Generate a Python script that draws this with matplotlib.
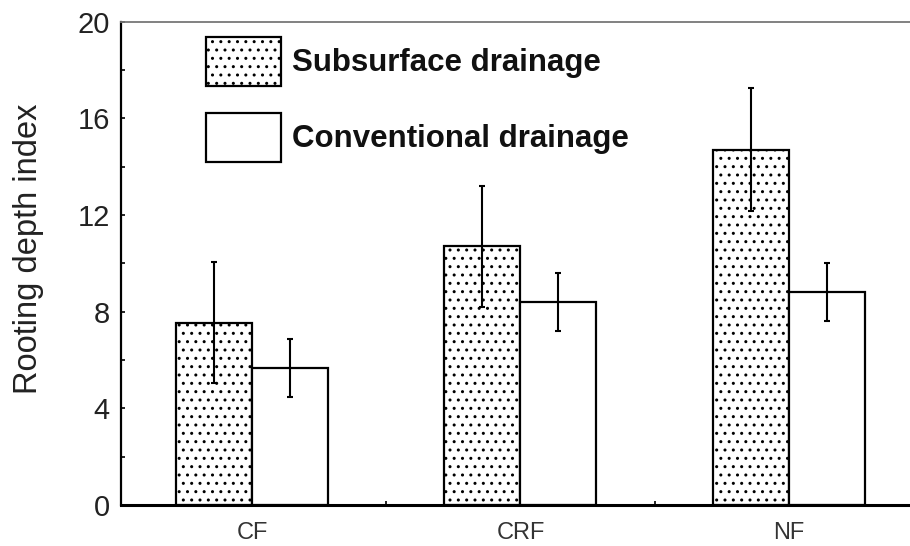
import matplotlib
matplotlib.use("Agg")
import matplotlib.pyplot as plt
import numpy as np
from matplotlib.patches import Patch

categories = ["CF", "CRF", "NF"]
series_names = ["Subsurface drainage", "Conventional drainage"]
subsurface = [7.55, 10.7, 14.7]
subsurface_err = [2.5, 2.5, 2.55]
conventional = [5.65, 8.4, 8.8]
conventional_err = [1.2, 1.22, 1.2]
yticks = [0, 4, 8, 12, 16, 20]

plt.rcParams['font.family'] = ['Liberation Sans', 'DejaVu Sans']
plt.rcParams['hatch.linewidth'] = 1.0

fig = plt.figure(figsize=(9.1, 5.46), dpi=100)
ax = fig.add_axes([121/910, 1 - 505/546, 1 - 121/910, (505 - 21.7)/546])

x = np.arange(len(categories))
w = 0.283
off = 0.1415

ax.bar(x - off, subsurface, width=w, color='white', edgecolor='black',
       linewidth=1.6, hatch='..', zorder=2)
ax.bar(x + off, conventional, width=w, color='white', edgecolor='black',
       linewidth=1.6, zorder=2)
ax.errorbar(x - off, subsurface, yerr=subsurface_err, fmt='none', ecolor='black',
            elinewidth=1.5, capsize=2, capthick=1.5, zorder=3)
ax.errorbar(x + off, conventional, yerr=conventional_err, fmt='none', ecolor='black',
            elinewidth=1.5, capsize=2, capthick=1.5, zorder=3)

ax.set_xlim(-0.488, 2.451)
ax.set_ylim(0, 20)

ax.set_yticks(yticks)
ax.set_yticks([2, 6, 10, 14, 18], minor=True)
ax.tick_params(axis='y', which='both', direction='in', length=3, width=1.2,
               labelsize=21, pad=8, colors='black', labelcolor='#222222')

ax.set_xticks(x)
ax.set_xticklabels(categories)
ax.set_xticks([0.5, 1.5], minor=True)
ax.tick_params(axis='x', which='major', length=0, labelsize=17, pad=12, labelcolor='#333333')
ax.tick_params(axis='x', which='minor', direction='in', length=3, width=1.2)

ax.spines['right'].set_visible(False)
ax.spines['top'].set_color('#777777')
ax.spines['top'].set_linewidth(1.3)
ax.spines['left'].set_linewidth(1.6)
ax.spines['bottom'].set_linewidth(2.2)

ax.set_ylabel("Rooting depth index", fontsize=23.5, color='#222222')
ax.yaxis.set_label_coords(-0.098, 0.53)

handles = [Patch(facecolor='white', edgecolor='black', hatch='..', linewidth=1.6),
           Patch(facecolor='white', edgecolor='black', linewidth=1.6)]
leg = ax.legend(handles, series_names, loc='upper left',
                bbox_to_anchor=(206/910, 1 - 37/546), bbox_transform=fig.transFigure,
                frameon=False, borderpad=0, borderaxespad=0,
                handlelength=2.4, handleheight=2.04, handletextpad=0.35,
                labelspacing=0.85, prop={'size': 22.5, 'weight': 'bold'})
for t in leg.get_texts():
    t.set_color('#111111')

fig.savefig("out.png", dpi=100, facecolor='white')
